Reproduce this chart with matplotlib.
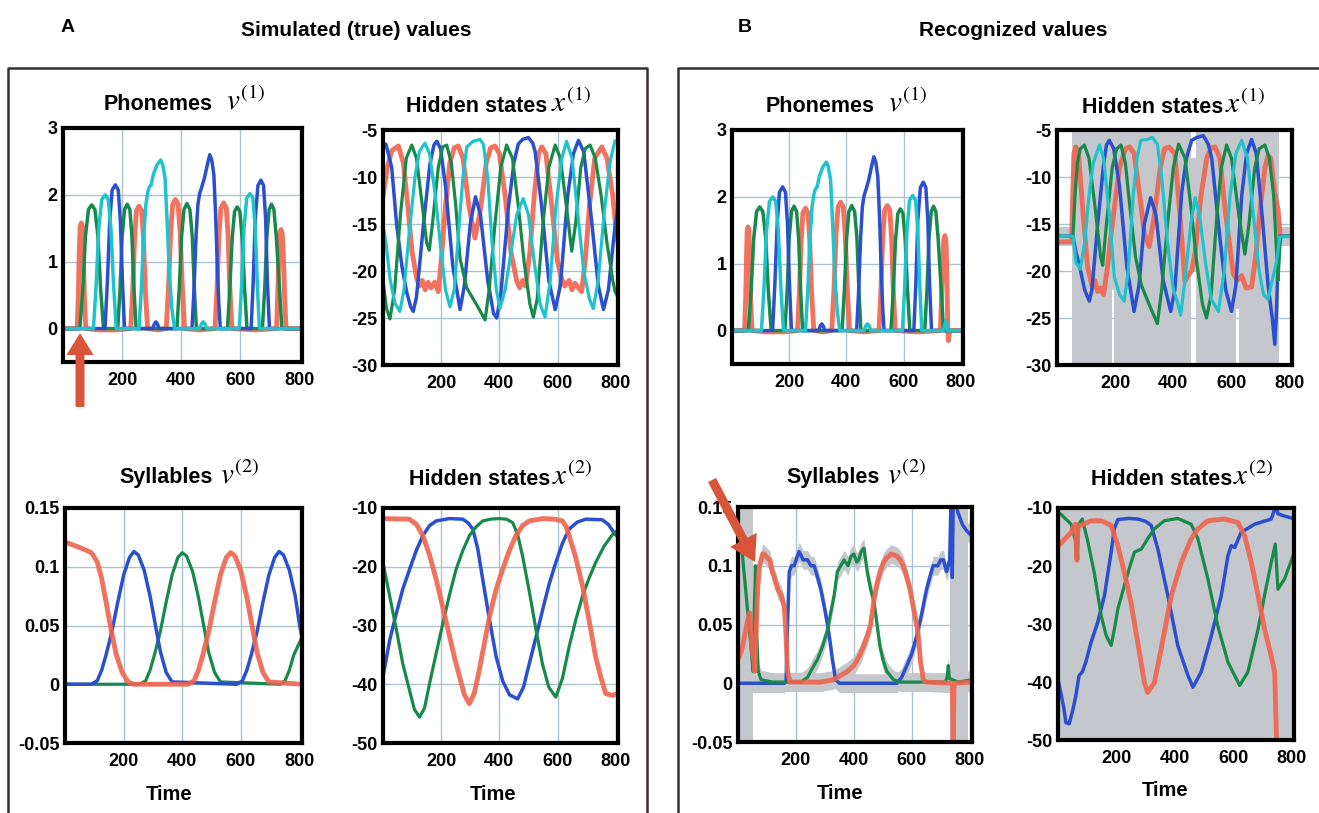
import matplotlib.pyplot as plt
import matplotlib.patches as mpatches
from matplotlib.lines import Line2D

plt.rcParams['font.family'] = ['Liberation Sans', 'DejaVu Sans']
plt.rcParams['mathtext.fontset'] = 'stix'

W, H = 1319, 813
RED, BLUE, GREEN, CYAN = '#f0644e', '#2a4fcf', '#17894a', '#20c2cc'
GRID, CI, ARROW = '#a9c3d3', '#c4c7cb', '#d9553a'

# ---------------- phonemes v(1), simulated ----------------
ph_red_t = [0, 48, 52, 55, 58, 62, 66, 69, 72, 77, 120, 180, 229, 236, 242, 248, 257, 266, 272, 278, 286, 320,
            349, 357, 364, 371, 380, 389, 396, 403, 411, 460, 514, 521, 527, 534, 543, 552, 558, 564, 571, 650,
            722, 726, 730, 733, 737, 741, 745, 749, 754, 808]
ph_red_v = [0, 0, 0.5, 1.15, 1.52, 1.58, 1.52, 1.15, 0.5, 0, -0.02, -0.02, 0, 0.6, 1.35, 1.76, 1.83, 1.76, 1.35, 0.6, 0, -0.02,
            0, 0.65, 1.45, 1.86, 1.93, 1.86, 1.45, 0.65, 0, -0.02, 0, 0.62, 1.4, 1.8, 1.88, 1.8, 1.4, 0.62, 0, -0.02,
            0, 0.5, 1.1, 1.42, 1.48, 1.42, 1.1, 0.5, 0, 0]
ph_green_t = [0, 57, 67, 76, 86, 97, 108, 118, 127, 137, 185, 193, 200, 208, 217, 226, 233, 240, 247,
              385, 393, 401, 409, 419, 429, 437, 444, 451, 556, 564, 572, 580, 589, 598, 606, 614, 622,
              674, 682, 689, 697, 705, 713, 721, 732, 740, 808]
ph_green_v = [0, 0, 0.6, 1.38, 1.78, 1.85, 1.78, 1.38, 0.6, 0, 0, 0.6, 1.38, 1.78, 1.86, 1.78, 1.38, 0.6, 0,
              0, 0.6, 1.38, 1.78, 1.87, 1.78, 1.38, 0.6, 0, 0, 0.6, 1.35, 1.75, 1.82, 1.75, 1.35, 0.6, 0,
              0, 0.6, 1.38, 1.78, 1.86, 1.78, 1.38, 0.6, 0, 0]
ph_cyan_t = [0, 103, 112, 121, 131, 143, 153, 162, 171, 180, 257, 265, 273, 280, 287, 292, 298, 305, 318, 330,
             337, 345, 352, 360, 368, 377, 462, 468, 474, 480, 486, 596, 604, 612, 621, 632, 642, 650, 657, 664, 808]
ph_cyan_v = [0, 0, 0.65, 1.5, 1.93, 2.0, 1.93, 1.5, 0.65, 0, 0, 0.6, 1.4, 1.85, 2.05, 2.12, 2.15, 2.3, 2.45, 2.52,
             2.45, 2.25, 1.6, 0.8, 0.3, 0, 0, 0.07, 0.1, 0.07, 0, 0, 0.65, 1.5, 1.95, 2.02, 1.95, 1.5, 0.65, 0, 0]
ph_blue_t = [0, 142, 150, 158, 166, 177, 187, 194, 201, 208, 303, 309, 314, 319, 325, 436, 443, 450, 456, 462,
             468, 478, 488, 496, 503, 510, 516, 522, 527, 532, 636, 643, 650, 659, 669, 678, 685, 691, 698, 808]
ph_blue_v = [0, 0, 0.7, 1.6, 2.07, 2.15, 2.07, 1.6, 0.7, 0, 0, 0.07, 0.1, 0.07, 0, 0, 0.6, 1.4, 1.85, 2.02,
             2.1, 2.25, 2.45, 2.6, 2.52, 2.3, 1.7, 0.9, 0.35, 0, 0, 0.7, 1.65, 2.14, 2.22, 2.14, 1.65, 0.7, 0, 0]

# ---------------- phonemes v(1), recognized (differs in red / cyan) ----------------
phr_red_t = [0, 44, 48, 51, 53, 56, 59, 62, 65, 70, 120, 180, 229, 236, 242, 248, 257, 266, 272, 278, 286, 320,
             349, 357, 364, 371, 380, 389, 396, 403, 411, 460, 514, 521, 527, 534, 543, 552, 558, 564, 571, 650,
             729, 733, 737, 741, 745, 749, 752, 755, 757, 760, 763, 808]
phr_red_v = [0, 0, 0.5, 1.15, 1.48, 1.55, 1.48, 1.15, 0.5, 0, -0.02, -0.02, 0, 0.6, 1.35, 1.76, 1.83, 1.76, 1.35, 0.6, 0, -0.02,
             0, 0.65, 1.45, 1.85, 1.92, 1.85, 1.45, 0.65, 0, -0.02, 0, 0.62, 1.4, 1.8, 1.87, 1.8, 1.4, 0.62, 0, -0.02,
             0, 0.5, 1.1, 1.36, 1.42, 1.3, 0.7, 0.0, -0.15, -0.05, 0, 0]
phr_cyan_t = ph_cyan_t[:-1] + [740, 746, 750, 754, 808]
phr_cyan_v = ph_cyan_v[:-1] + [0, 0.12, 0.15, 0.0, 0]

# ---------------- hidden states x(1), simulated ----------------
x1_blue_t = [0, 10, 30, 47, 65, 81, 95, 104, 115, 139, 161, 175, 185, 198, 215, 240, 265, 280, 300, 318, 335, 360,
             380, 391, 405, 431, 450, 465, 480, 500, 515, 523, 545, 570, 592, 610, 635, 655, 672, 690, 715, 740,
             758, 775, 795, 808]
x1_blue_v = [-6.6, -6.5, -9, -15.1, -19.5, -22.2, -23.8, -24.3, -22.8, -15.1, -8.7, -6.6, -6.2, -7, -11, -19.5,
             -24.1, -21.5, -15, -12.1, -14, -21, -24.5, -25, -22.5, -13.3, -8.5, -6.5, -6, -5.8, -6.4, -7.3, -13,
             -21, -24.1, -21.5, -12, -7.5, -6.1, -7.3, -14, -21.5, -24.1, -22, -16, -13]
x1_green_t = [0, 12, 24, 40, 60, 80, 99, 115, 135, 150, 159, 170, 190, 205, 219, 235, 250, 265, 288, 322, 351,
              365, 385, 405, 425, 445, 465, 485, 505, 517, 530, 550, 570, 592, 610, 630, 649, 662, 680, 695, 712,
              730, 750, 770, 790, 798, 808]
x1_green_v = [-21, -24, -25.1, -22, -14, -8, -6.6, -8, -13, -17, -17.8, -15, -9, -6.8, -6.6, -8.5, -13, -18.7,
              -21.8, -23.6, -25.2, -22, -15, -9, -6.6, -8, -13, -19, -23.5, -24.9, -23, -15, -9, -6.6, -8, -13,
              -17.9, -15, -9, -7, -6.6, -8, -12, -17, -21, -22.2, -22.8]
x1_cyan_t = [0, 10, 25, 41, 58, 72, 90, 110, 125, 144, 160, 180, 200, 215, 230, 245, 262, 275, 288, 310, 322,
             333, 345, 360, 375, 390, 402, 420, 440, 460, 482, 500, 520, 540, 557, 575, 595, 615, 631, 650, 670,
             690, 710, 723, 740, 760, 780, 797, 808]
x1_cyan_v = [-15, -17, -21, -23.4, -24.3, -22, -16, -10, -7.3, -6.4, -7.5, -12, -18, -22, -23.8, -22, -15, -10,
             -6.8, -6.2, -6.1, -6, -6.5, -10, -17, -22, -24, -22, -18, -14, -12.3, -14, -19, -23.5, -24.9, -21,
             -13, -8, -6.2, -8, -14, -20, -23, -24, -21, -14, -8.5, -6.2, -6]
x1_red_t = [0, 15, 30, 53, 70, 85, 100, 116, 125, 135, 145, 155, 165, 178, 190, 200, 215, 230, 245, 259, 275,
            295, 316, 335, 355, 370, 385, 400, 420, 440, 460, 470, 480, 490, 505, 520, 535, 546, 560, 580, 600,
            614, 625, 640, 650, 660, 672, 683, 695, 710, 728, 752, 770, 790, 803, 808]
x1_red_v = [-12, -9, -7.2, -6.7, -8.5, -13, -18, -20.8, -21.6, -21, -22, -21.2, -21.8, -21.2, -22.2, -19, -13,
            -8.5, -6.9, -6.7, -8, -13, -16.5, -13.5, -8.5, -6.9, -6.7, -7.5, -12, -18, -21.1, -21.8, -21, -21.6,
            -18, -12, -7.5, -6.8, -7.5, -13, -19, -20.8, -21.6, -21, -22, -21.3, -21.8, -22.2, -19, -13, -8,
            -6.8, -8, -12, -16.2, -17]

# ---------------- hidden states x(1), recognized ----------------
x1r_blue_t = [0, 55, 65, 77, 95, 111, 120, 140, 160, 170, 180, 195, 215, 240, 265, 282, 300, 322, 340, 365, 391,
              405, 429, 445, 463, 480, 503, 520, 532, 555, 580, 600, 615, 635, 652, 669, 685, 705, 726, 740, 749,
              755, 760, 766, 808]
x1r_blue_v = [-16.3, -16.3, -18, -19.4, -22, -23.2, -22, -15, -8.7, -6.6, -6.1, -7, -11, -19.5, -24.3, -21.5,
              -15, -12.2, -14, -21, -24.3, -22, -11.6, -8, -6.1, -5.8, -5.6, -6.5, -8, -15, -22, -24.3, -21.5,
              -12, -7.5, -6, -7.5, -14, -21.6, -25, -27.8, -24, -19, -16.3, -16.3]
x1r_green_t = [0, 55, 62, 70, 80, 94, 110, 130, 150, 157, 170, 190, 205, 220, 235, 250, 270, 290, 320, 345, 360,
               380, 400, 418, 440, 460, 480, 500, 514, 530, 550, 565, 583, 600, 625, 646, 660, 680, 695, 715, 730,
               745, 755, 760, 766, 770, 808]
x1r_green_v = [-16.3, -16.3, -12, -8.5, -7, -6.6, -8, -13, -18.5, -19.4, -15, -9, -7, -6.6, -8.5, -13, -18.5,
               -21.5, -23.8, -25.6, -22, -15, -9, -6.5, -8, -13, -19, -23.5, -25, -22.5, -14, -9, -6.6, -8, -14,
               -18.2, -15, -9, -7, -6.6, -8, -12, -18, -21, -17.5, -16.3, -16.3]
x1r_cyan_t = [0, 55, 65, 80, 95, 110, 125, 146, 160, 180, 197, 215, 231, 245, 262, 275, 288, 310, 328, 345, 360,
              380, 400, 415, 425, 440, 460, 475, 490, 510, 530, 555, 575, 595, 615, 635, 655, 675, 695, 710, 726,
              740, 755, 766, 808]
x1r_cyan_v = [-16.3, -16.3, -19.1, -19.8, -17, -12, -8.5, -6.6, -8, -14, -20.6, -22.5, -23.2, -20, -12, -8,
              -6.1, -6, -5.8, -6.5, -10, -17, -22, -23.4, -24.7, -21, -15, -12.2, -14, -19, -23, -24.3, -20, -12,
              -7.5, -6.1, -8, -14, -20, -22.5, -23, -21, -19, -16.35, -16.35]
x1r_red_t = [0, 50, 54, 58, 65, 75, 90, 105, 122, 130, 140, 150, 160, 172, 190, 215, 235, 250, 265, 285, 300,
             317, 335, 355, 370, 385, 405, 420, 440, 450, 463, 475, 495, 515, 530, 543, 560, 580, 606, 620, 635,
             650, 669, 685, 700, 715, 726, 735, 749, 760, 768]
x1r_red_v = [-16.9, -16.9, -12, -7.5, -6.8, -8, -14, -19.5, -21.8, -21, -22.2, -21.8, -22.5, -20, -15, -9, -7,
             -6.8, -7.5, -12, -16, -17.4, -14, -9, -7, -6.8, -7.5, -13, -21.1, -20.5, -20, -18, -12, -8, -6.9,
             -6.8, -8, -14, -20.3, -21, -20.5, -21.8, -21.7, -18, -13, -9, -7.7, -8, -11.7, -13.5, -16.3]
# confidence region (t start, t end, lower, upper)
x1r_ci = [(0, 52, -17.3, -15.3), (52, 188, -30, -5), (188, 196, -22, -5), (196, 460, -30, -5),
          (460, 478, -20, -8), (478, 615, -30, -5), (615, 626, -24, -5), (626, 765, -30, -5),
          (765, 808, -17.3, -15.3)]

# ---------------- syllables v(2), simulated ----------------
sy_blue_t = [0, 90, 110, 125, 140, 160, 180, 200, 220, 235, 250, 270, 290, 310, 325, 345, 365, 585, 605, 620,
             635, 655, 675, 695, 715, 730, 745, 765, 785, 800, 808]
sy_blue_v = [0, 0, 0.003, 0.012, 0.025, 0.045, 0.07, 0.093, 0.108, 0.113, 0.11, 0.097, 0.075, 0.048, 0.028,
             0.01, 0.002, 0, 0.003, 0.012, 0.025, 0.045, 0.07, 0.093, 0.108, 0.113, 0.11, 0.097, 0.075, 0.05, 0.04]
sy_green_t = [0, 255, 275, 290, 305, 325, 345, 365, 385, 400, 415, 435, 455, 475, 490, 510, 530, 735, 750, 765,
              780, 808]
sy_green_v = [0, 0, 0.003, 0.012, 0.025, 0.045, 0.07, 0.093, 0.108, 0.112, 0.109, 0.096, 0.074, 0.047, 0.027,
              0.01, 0.002, 0, 0.003, 0.012, 0.025, 0.04]
sy_red_t = [0, 44, 90, 110, 125, 140, 158, 175, 195, 215, 235, 420, 440, 455, 470, 490, 510, 530, 550, 565, 580,
            600, 620, 640, 655, 675, 695, 808]
sy_red_v = [0.121, 0.117, 0.112, 0.104, 0.09, 0.07, 0.045, 0.025, 0.01, 0.002, 0, 0, 0.003, 0.012, 0.025,
            0.045, 0.07, 0.093, 0.108, 0.112, 0.109, 0.096, 0.074, 0.047, 0.027, 0.01, 0.002, 0]

# ---------------- syllables v(2), recognized ----------------
syr_green_t = [0, 15, 30, 45, 52, 56, 60, 63, 70, 80, 120, 217, 240, 255, 274, 290, 309, 320, 332, 343, 355,
               366, 380, 390, 400, 410, 417, 425, 435, 446, 458, 469, 480, 491, 503, 514, 537, 560, 715, 722, 726,
               730, 760, 808]
syr_green_v = [0.13, 0.11, 0.07, 0.03, 0.01, 0.06, 0.1, 0.05, 0.01, 0.003, 0.001, 0.001, 0.005, 0.012, 0.02,
               0.03, 0.045, 0.06, 0.075, 0.095, 0.1, 0.105, 0.1, 0.108, 0.11, 0.103, 0.105, 0.112, 0.115, 0.095,
               0.08, 0.07, 0.05, 0.03, 0.018, 0.01, 0.003, 0.001, 0.001, 0.005, 0.015, 0.004, 0.001, 0.003]
syr_red_t = [0, 15, 30, 40, 45, 50, 55, 58, 62, 68, 74, 85, 91, 100, 110, 118, 126, 137, 149, 160, 166, 171,
             180, 286, 330, 377, 400, 423, 446, 458, 469, 480, 491, 503, 514, 530, 549, 560, 571, 583, 594, 605,
             617, 625, 629, 640, 650, 740, 743, 746, 808]
syr_red_v = [0.02, 0.03, 0.05, 0.06, 0.04, 0.025, 0.02, 0.01, 0.04, 0.08, 0.1, 0.11, 0.11, 0.107, 0.105, 0.095,
             0.09, 0.08, 0.075, 0.065, 0.04, 0.01, 0.001, 0.001, 0.003, 0.01, 0.015, 0.025, 0.04, 0.05, 0.07,
             0.085, 0.095, 0.103, 0.107, 0.11, 0.108, 0.105, 0.1, 0.09, 0.08, 0.065, 0.05, 0.035, 0.02, 0.003,
             0.001, 0.0, -0.05, 0.0, 0.001]
syr_blue_t = [0, 160, 166, 171, 177, 185, 194, 205, 211, 225, 240, 252, 263, 275, 286, 298, 309, 318, 326, 337,
              350, 549, 565, 583, 600, 617, 635, 651, 662, 674, 690, 700, 709, 720, 726, 731, 735, 737, 740, 743,
              746, 760, 775, 789, 808]
syr_blue_v = [0, 0, 0.002, 0.05, 0.095, 0.1, 0.1, 0.108, 0.112, 0.105, 0.105, 0.1, 0.1, 0.09, 0.08, 0.065, 0.05,
              0.035, 0.02, 0.003, 0, 0, 0.005, 0.015, 0.025, 0.04, 0.06, 0.08, 0.09, 0.1, 0.1, 0.105, 0.105,
              0.095, 0.1, 0.105, 0.15, 0.16, 0.09, 0.15, 0.16, 0.145, 0.135, 0.13, 0.125]
syr_ci_spans = [(0, 52), (731, 795)]
syr_ci_half = 0.008

# ---------------- hidden states x(2), simulated ----------------
x2_red_t = [0, 91, 115, 137, 160, 183, 206, 229, 246, 263, 280, 297, 314, 331, 348, 366, 388, 411, 434, 457, 480,
            503, 549, 590, 617, 630, 640, 663, 686, 708, 731, 750, 766, 789, 808]
x2_red_v = [-11.8, -11.9, -12.8, -14.7, -18, -22.2, -27, -31.9, -35.5, -38.7, -41.8, -43.3, -41.5, -37.6,
            -33.2, -28.5, -24, -20.5, -17.3, -14.7, -13, -12.2, -11.8, -11.9, -12.2, -13.2, -14.7, -18.5, -23.3,
            -29, -35.3, -39, -41.6, -41.9, -41.5]
x2_green_t = [0, 23, 46, 68, 91, 108, 126, 143, 160, 183, 206, 229, 251, 274, 297, 320, 343, 370, 400, 425, 446,
              463, 480, 503, 526, 548, 570, 594, 617, 640, 663, 686, 708, 731, 760, 794, 808]
x2_green_v = [-19.3, -25, -30.7, -36.5, -41, -44.3, -45.6, -44, -39.9, -34.7, -29.6, -24.7, -20.5, -17.3,
              -14.7, -13.2, -12.2, -11.9, -11.8, -11.9, -12.5, -14.5, -18.2, -24.2, -30.7, -36.5, -40.5, -42.2,
              -39, -33.6, -29, -25, -22, -19.3, -16.5, -14.2, -13.8]
x2_blue_t = [0, 23, 46, 68, 91, 114, 137, 160, 183, 229, 274, 292, 309, 326, 343, 366, 389, 412, 435, 463, 483,
             503, 526, 549, 571, 594, 617, 640, 668, 697, 754, 775, 794, 808]
x2_blue_v = [-38.7, -32.5, -27.9, -23.8, -20.5, -17.3, -14.7, -13, -12.2, -11.8, -11.9, -12.5, -13.6, -17,
             -22.2, -29, -35.3, -39.5, -41.8, -42.5, -40.5, -36.5, -32, -27.3, -23, -19.3, -16, -13.6, -12.4,
             -11.9, -12, -12.8, -14.2, -15]

# ---------------- hidden states x(2), recognized ----------------
x2r_blue_t = [2, 20, 27, 38, 50, 61, 72, 83, 95, 113, 136, 159, 170, 182, 193, 205, 240, 273, 300, 319, 342, 376,
              410, 445, 462, 490, 525, 559, 582, 593, 605, 627, 673, 730, 742, 747, 753, 776, 805]
x2r_blue_v = [-40, -44.5, -47, -47.2, -45, -42.4, -38.9, -38.3, -36.6, -33.2, -29.7, -25.1, -21.5, -17.6,
              -13.5, -12, -11.8, -11.9, -12.3, -13, -17.1, -25.1, -33.7, -38.9, -40.9, -38.3, -32, -25.1, -18.2,
              -16.5, -16.8, -14.2, -12.8, -11.9, -10.2, -9.6, -11, -11.4, -11.8]
x2r_green_t = [2, 45, 61, 65, 69, 83, 100, 124, 148, 165, 182, 193, 205, 227, 250, 262, 285, 307, 330, 364, 410,
               456, 479, 513, 547, 582, 622, 650, 685, 707, 730, 744, 753, 776, 805]
x2r_green_v = [-10.7, -12.8, -15.9, -18.8, -13, -11.9, -15.3, -21.1, -28.6, -32, -33.7, -30.9, -27.4, -23.4,
               -19.4, -17.6, -17.1, -15.3, -13.6, -12.2, -11.8, -12.8, -15.3, -22.2, -30.3, -36.6, -40.6, -38.3,
               -30.9, -25.1, -19.4, -16.2, -24, -22.2, -18.2]
x2r_red_t = [2, 45, 55, 61, 63, 65, 67, 69, 79, 113, 148, 182, 205, 227, 250, 273, 296, 307, 330, 353, 388, 422,
             456, 479, 513, 570, 616, 639, 662, 685, 707, 730, 742, 747, 750]
x2r_red_v = [-16.5, -14.2, -13, -12.8, -17, -19, -15, -13, -13, -12.2, -12.2, -13, -16.5, -21.1, -26.3, -33.2,
             -40.1, -41.8, -40.1, -34.3, -25.1, -19.4, -15.3, -13.6, -12.2, -11.9, -12.5, -14.8, -19.4, -25.1,
             -30.9, -35.5, -38.3, -48, -52]

xtick_vals = [200, 400, 600, 800]
ph_yticks, ph_ylim = [0, 1, 2, 3], (-0.5, 3)
x1_yticks, x1_ylim = [-30, -25, -20, -15, -10, -5], (-30, -5)
sy_yticks, sy_ylim = [-0.05, 0, 0.05, 0.1, 0.15], (-0.05, 0.15)
sy_ylabels = ['-0.05', '0', '0.05', '0.1', '0.15']
x2_yticks, x2_ylim = [-50, -40, -30, -20, -10], (-50, -10)

fig = plt.figure(figsize=(W / 100, H / 100), dpi=100)


def make_ax(box, yticks, ylim, ylabels=None):
    l, t, r, b = box
    ax = fig.add_axes([l / W, 1 - b / H, (r - l) / W, (b - t) / H])
    ax.set_xlim(0, 808)
    ax.set_ylim(*ylim)
    ax.set_xticks(xtick_vals)
    ax.set_xticklabels([str(v) for v in xtick_vals], fontweight='bold', fontsize=13)
    ax.set_yticks(yticks)
    ax.set_yticklabels(ylabels if ylabels else [str(v) for v in yticks], fontweight='bold', fontsize=13)
    ax.tick_params(length=0, pad=4)
    ax.tick_params(axis='x', pad=7)
    ax.grid(True, color=GRID, lw=1.0)
    ax.set_axisbelow(True)
    for s in ax.spines.values():
        s.set_linewidth(3)
        s.set_color('black')
    return ax


def title(ax, word, sym, xr, xm, yb):
    ax.text(xr, yb, word, transform=ax.transAxes, ha='right', va='baseline', fontsize=15.5, fontweight='bold')
    ax.text(xm, yb, sym, transform=ax.transAxes, ha='left', va='baseline', fontsize=21)


def time_label(ax, xc):
    ax.text(xc, -0.243, 'Time', transform=ax.transAxes, ha='center', va='baseline', fontsize=14.5,
            fontweight='bold')


# ---------- A: simulated ----------
ax = make_ax((63, 128, 302, 362), ph_yticks, ph_ylim)
ax.plot(ph_red_t, ph_red_v, color=RED, lw=3.5, alpha=0.9)
ax.plot(ph_green_t, ph_green_v, color=GREEN, lw=2.5)
ax.plot(ph_blue_t, ph_blue_v, color=BLUE, lw=2.5)
ax.plot(ph_cyan_t, ph_cyan_v, color=CYAN, lw=2.5)
title(ax, 'Phonemes', r'$v^{(1)}$', 0.628, 0.68, 1.077)

ax = make_ax((383, 130, 618, 365), x1_yticks, x1_ylim)
ax.plot(x1_red_t, x1_red_v, color=RED, lw=3.5, alpha=0.9)
ax.plot(x1_blue_t, x1_blue_v, color=BLUE, lw=2.5)
ax.plot(x1_green_t, x1_green_v, color=GREEN, lw=2.3)
ax.plot(x1_cyan_t, x1_cyan_v, color=CYAN, lw=2.3)
title(ax, 'Hidden states', r'$x^{(1)}$', 0.698, 0.715, 1.077)

ax = make_ax((65, 508, 302, 743), sy_yticks, sy_ylim, sy_ylabels)
ax.plot(sy_green_t, sy_green_v, color=GREEN, lw=2.3)
ax.plot(sy_blue_t, sy_blue_v, color=BLUE, lw=2.5)
ax.plot(sy_red_t, sy_red_v, color=RED, lw=3.5, alpha=0.9)
title(ax, 'Syllables', r'$v^{(2)}$', 0.624, 0.654, 1.106)
time_label(ax, 0.44)

ax = make_ax((383, 508, 618, 743), x2_yticks, x2_ylim)
ax.plot(x2_blue_t, x2_blue_v, color=BLUE, lw=2.5)
ax.plot(x2_green_t, x2_green_v, color=GREEN, lw=2.3)
ax.plot(x2_red_t, x2_red_v, color=RED, lw=3.5, alpha=0.9)
title(ax, 'Hidden states', r'$x^{(2)}$', 0.71, 0.72, 1.098)
time_label(ax, 0.468)

# ---------- B: recognized ----------
ax = make_ax((732, 130, 963, 364), ph_yticks, ph_ylim)
ax.plot(phr_red_t, phr_red_v, color=RED, lw=3.5, alpha=0.9)
ax.plot(ph_green_t, ph_green_v, color=GREEN, lw=2.5)
ax.plot(ph_blue_t, ph_blue_v, color=BLUE, lw=2.5)
ax.plot(phr_cyan_t, phr_cyan_v, color=CYAN, lw=2.5)
title(ax, 'Phonemes', r'$v^{(1)}$', 0.619, 0.675, 1.077)

ax = make_ax((1057, 130, 1292, 365), x1_yticks, x1_ylim)
for t0, t1, lo, hi in x1r_ci:
    ax.fill_between([t0, t1], [lo, lo], [hi, hi], color=CI, lw=0)
ax.plot(x1r_red_t, x1r_red_v, color=RED, lw=3.5, alpha=0.9)
ax.plot(x1r_blue_t, x1r_blue_v, color=BLUE, lw=2.5)
ax.plot(x1r_green_t, x1r_green_v, color=GREEN, lw=2.3)
ax.plot(x1r_cyan_t, x1r_cyan_v, color=CYAN, lw=2.3)
title(ax, 'Hidden states', r'$x^{(1)}$', 0.706, 0.715, 1.072)

ax = make_ax((738, 507, 972, 742), sy_yticks, sy_ylim, sy_ylabels)
for t0, t1 in syr_ci_spans:
    ax.axvspan(t0, t1, color=CI, lw=0)
for tt, vv in [(syr_green_t, syr_green_v), (syr_red_t, syr_red_v), (syr_blue_t, syr_blue_v)]:
    ax.fill_between(tt, [v - syr_ci_half for v in vv], [v + syr_ci_half for v in vv], color=CI, lw=0)
ax.plot(syr_blue_t, syr_blue_v, color=BLUE, lw=2.5)
ax.plot(syr_green_t, syr_green_v, color=GREEN, lw=2.3)
ax.plot(syr_red_t, syr_red_v, color=RED, lw=3.5, alpha=0.9)
title(ax, 'Syllables', r'$v^{(2)}$', 0.607, 0.637, 1.102)
time_label(ax, 0.436)

ax = make_ax((1058, 508, 1294, 740), x2_yticks, x2_ylim)
ax.set_facecolor(CI)
ax.grid(False)
ax.plot(x2r_blue_t, x2r_blue_v, color=BLUE, lw=2.5)
ax.plot(x2r_green_t, x2r_green_v, color=GREEN, lw=2.3)
ax.plot(x2r_red_t, x2r_red_v, color=RED, lw=3.5, alpha=0.9)
title(ax, 'Hidden states', r'$x^{(2)}$', 0.737, 0.742, 1.098)
time_label(ax, 0.453)

# ---------- headers, frames, arrows ----------
fig.text(68 / W, 1 - 28 / H, 'A', ha='center', va='center', fontsize=14, fontweight='bold')
fig.text(356 / W, 1 - 30 / H, 'Simulated (true) values', ha='center', va='center', fontsize=15, fontweight='bold')
fig.text(745 / W, 1 - 28 / H, 'B', ha='center', va='center', fontsize=14, fontweight='bold')
fig.text(1013 / W, 1 - 30 / H, 'Recognized values', ha='center', va='center', fontsize=15, fontweight='bold')

fig.add_artist(Line2D([8 / W, 8 / W, 647 / W, 647 / W], [0, 1 - 68 / H, 1 - 68 / H, 0],
                      color='#3b3030', lw=1.8, transform=fig.transFigure))
fig.add_artist(Line2D([678 / W, 678 / W, 1], [0, 1 - 68 / H, 1 - 68 / H],
                      color='#3b3030', lw=1.8, transform=fig.transFigure))

fig.add_artist(mpatches.FancyArrow(0.80, 4.06, 0, 0.74, width=0.09, head_width=0.27, head_length=0.22,
                                   length_includes_head=True, color=ARROW, lw=0,
                                   transform=fig.dpi_scale_trans))
fig.add_artist(mpatches.FancyArrow(7.12, 3.33, 0.43, -0.82, width=0.09, head_width=0.3, head_length=0.25,
                                   length_includes_head=True, color=ARROW, lw=0,
                                   transform=fig.dpi_scale_trans))

fig.savefig('out.png', dpi=100, facecolor='white')
